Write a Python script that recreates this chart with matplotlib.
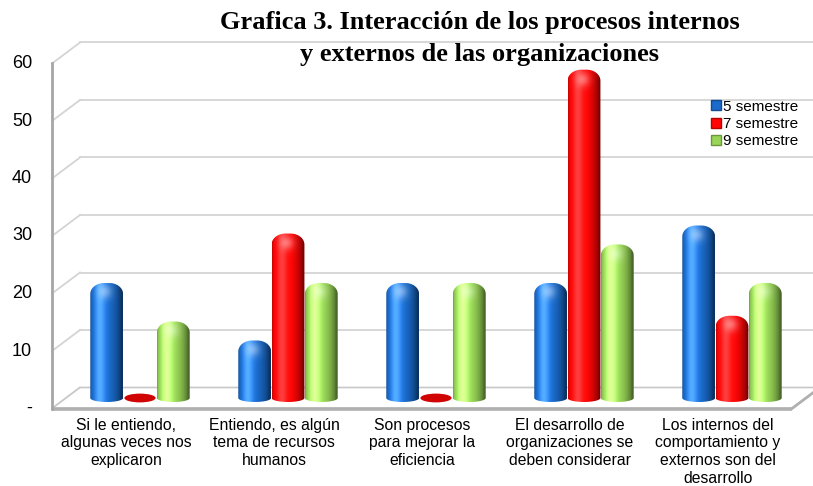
import numpy as np
import matplotlib
matplotlib.use("Agg")
import matplotlib.pyplot as plt
from matplotlib.path import Path
from matplotlib.patches import PathPatch, Ellipse, Polygon
from matplotlib.lines import Line2D
from matplotlib.transforms import offset_copy

# ---------------- data ----------------
categories = [
    "Si le entiendo,\nalgunas veces nos\nexplicaron",
    "Entiendo, es algún\ntema de recursos\nhumanos",
    "Son procesos\npara mejorar la\neficiencia",
    "El desarrollo de\norganizaciones se\ndeben considerar",
    "Los internos del\ncomportamiento y\nexternos son del\ndesarrollo",
]
series_names = ["5 semestre", "7 semestre", "9 semestre"]
sem5 = [20.0, 10.0, 20.0, 20.0, 30.0]
sem7 = [0.0, 28.6, 0.0, 57.1, 14.3]
sem9 = [13.3, 20.0, 20.0, 26.7, 20.0]
yticks = [0, 10, 20, 30, 40, 50, 60]
ytick_labels = ["-", "10", "20", "30", "40", "50", "60"]
title_lines = ["Grafica 3. Interacción de los procesos internos",
               "y externos de las organizaciones"]

base_colors = [(0.10, 0.42, 0.80), (1.0, 0.02, 0.02), (0.60, 0.84, 0.34)]

# ---------------- figure ----------------
W, H = 813, 486
DPI = 100
fig = plt.figure(figsize=(W / DPI, H / DPI), dpi=DPI)
fig.patch.set_facecolor("white")

PXY = 345 / 60.0          # px per y unit
YMIN = -4.0
left_px, width_px = 66, 740
zero_px = 398
bottom_px = zero_px - YMIN * PXY
height_px = (60 - YMIN) * PXY
ax = fig.add_axes([left_px / W, (H - bottom_px) / H, width_px / W, height_px / H])
ax.set_xlim(-0.5, 4.5)
ax.set_ylim(YMIN, 60)
ax.axis("off")

PXX = width_px / 5.0      # px per x unit
DX = 14 / PXX
DY = 10.5 / PXY
xlo, xhi = -0.5, 4.5

wall_c = "#d4d4d4"
for v in yticks:
    ax.add_line(Line2D([xlo + DX, xhi + DX + 0.2], [v + DY, v + DY], color=wall_c,
                       lw=1.3, clip_on=False, zorder=1))
    ax.add_line(Line2D([xlo - DX, xlo + DX], [v - DY, v + DY], color=wall_c,
                       lw=1.3, clip_on=False, zorder=1))

floor = Polygon([(xlo - DX, -DY), (xhi - DX, -DY), (xhi + DX, DY), (xlo + DX, DY)],
                closed=True, facecolor="white", edgecolor="#c8c8c8", lw=1.2,
                clip_on=False, zorder=1.5)
ax.add_patch(floor)
ax.add_line(Line2D([xlo - DX, xhi - DX], [-DY, -DY], color="#b0b0b0", lw=2.6,
                   clip_on=False, zorder=2, solid_capstyle="butt"))
ax.add_line(Line2D([xhi - DX, xhi + DX], [-DY, DY], color="#b0b0b0", lw=2.0,
                   clip_on=False, zorder=2))
ax.add_line(Line2D([xlo - DX, xlo - DX], [-DY, 60 - DY], color="#a6a6a6", lw=2.0,
                   clip_on=False, zorder=2))

for v, lab in zip(yticks, ytick_labels):
    tr = offset_copy(ax.transData, fig=fig, x=-20, y=0, units="dots")
    ax.text(xlo - DX, v - DY, lab, transform=tr, ha="right", va="center",
            fontsize=13, family="Liberation Sans", color="#000000", clip_on=False)

for i, lab in enumerate(categories):
    tr = offset_copy(ax.transData, fig=fig, x=0, y=-9, units="dots")
    ax.text(i - DX, -DY, lab, transform=tr, ha="center", va="top", fontsize=11.3,
            family="Liberation Sans", linespacing=1.24, clip_on=False)


def shade_image(base, nrows, ncols, total_px):
    u = np.linspace(0, 1, ncols)
    t = 2 * u - 1
    nz = np.sqrt(np.clip(1 - t ** 2, 0, 1))
    L = np.array([-0.45, 1.0])
    L = L / np.linalg.norm(L)
    diff = np.clip(t * L[0] + nz * L[1], 0, 1)
    col = np.array(base)[None, :] * (0.48 + 0.62 * diff[:, None])
    spec = 0.22 * diff ** 18
    col = np.clip(col + spec[:, None], 0, 1)
    img = np.repeat(col[None, :, :], nrows, axis=0)
    yy = np.linspace(total_px, 0, nrows)[:, None]
    xx = (u[None, :] - 0.45) * 33
    g = np.exp(-(((yy - (total_px - 9)) ** 2) / (2 * 5.0 ** 2) + (xx ** 2) / (2 * 5.0 ** 2)))
    img = np.clip(img + 0.4 * g[:, :, None] * (1 - img), 0, 1)
    rgba = np.concatenate([img, np.ones(img.shape[:2] + (1,))], axis=2)
    return rgba


width = 0.222
offsets = [-0.225, 0.0, 0.225]
xs = np.arange(len(categories))
ryb = 4.0 / PXY
ryt = 11.0 / PXY
for s, (vals, base) in enumerate(zip([sem5, sem7, sem9], base_colors)):
    bars = ax.bar(xs + offsets[s], vals, width=width, color=base, visible=False)
    for rect in bars:
        x0 = rect.get_x()
        w = rect.get_width()
        x1 = x0 + w
        cx = x0 + w / 2
        top = rect.get_height()
        if top <= 0:
            e = Ellipse((cx, 0), w * 0.95, 2 * ryb * 1.1,
                        facecolor=tuple(np.array(base) * 0.82),
                        edgecolor="none", zorder=3)
            ax.add_patch(e)
            continue
        rx = 0.42 * w
        verts = []
        th = np.linspace(np.pi, 2 * np.pi, 30)
        verts += list(zip(cx + (w / 2) * np.cos(th), ryb * np.sin(th)))
        verts.append((x1, top - ryt))
        th2 = np.linspace(0, np.pi / 2, 20)
        verts += list(zip(x1 - rx + rx * np.cos(th2), top - ryt + ryt * np.sin(th2)))
        th3 = np.linspace(np.pi / 2, np.pi, 20)
        verts += list(zip(x0 + rx + rx * np.cos(th3), top - ryt + ryt * np.sin(th3)))
        verts.append((x0, 0))
        path = Path(verts, closed=False)
        patch = PathPatch(path, facecolor="none", edgecolor="none", zorder=3)
        ax.add_patch(patch)
        total_px = (top + ryb) * PXY
        img = shade_image(base, 120, 60, total_px)
        im = ax.imshow(img, extent=(x0, x1, -ryb, top), aspect="auto", zorder=3,
                       interpolation="bilinear", origin="upper")
        im.set_clip_path(patch)

ax.set_xlim(-0.5, 4.5)
ax.set_ylim(YMIN, 60)

handles = [Line2D([], [], marker="s", linestyle="none", markersize=7.5,
                  markerfacecolor=c, markeredgecolor=tuple(np.array(c) * 0.7))
           for c in base_colors]
fig.legend(handles, series_names, loc="upper left",
           bbox_to_anchor=(704 / W, 1 - 92 / H), frameon=False,
           prop={"family": "Liberation Sans", "size": 11},
           handlelength=0.6, handletextpad=0.15, labelspacing=0.22, borderpad=0)

fig.text(480 / W, 1 - 23 / H, title_lines[0], ha="center", va="center",
         fontsize=19, fontweight="bold", family="Liberation Serif")
fig.text(479 / W, 1 - 55 / H, title_lines[1], ha="center", va="center",
         fontsize=19, fontweight="bold", family="Liberation Serif")

fig.savefig("out.png", dpi=DPI, facecolor="white")
